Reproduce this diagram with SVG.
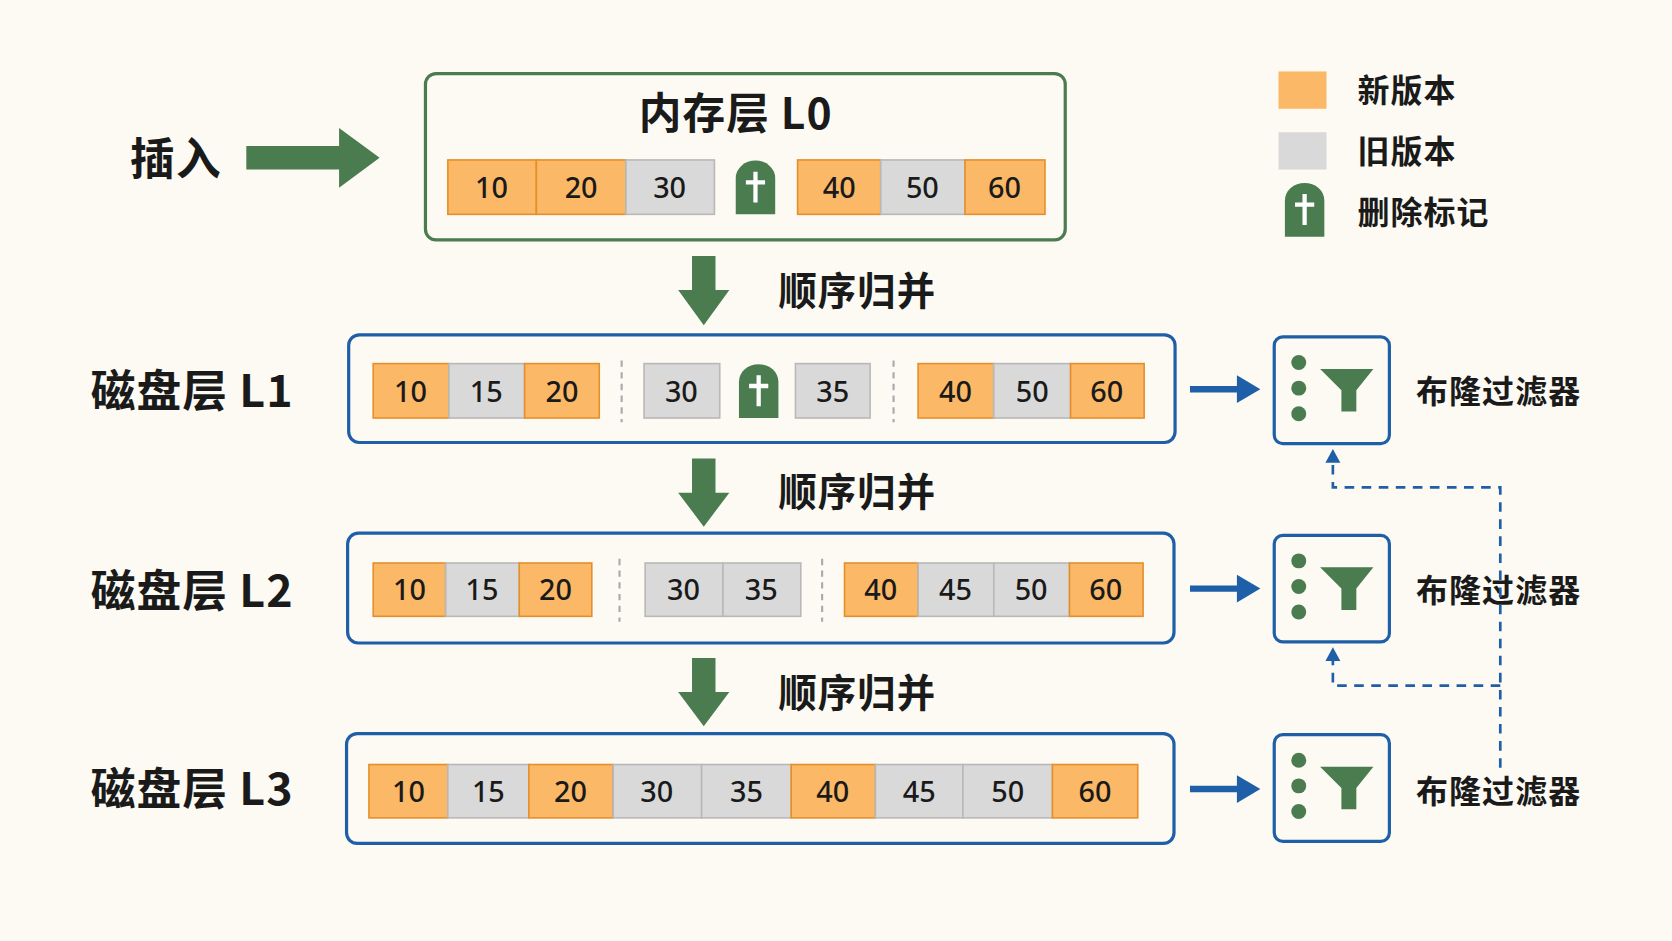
<svg xmlns="http://www.w3.org/2000/svg" width="1672" height="941" viewBox="0 0 1672 941">
<style>
text{font-family:"Noto Sans CJK SC","Noto Sans",sans-serif;font-weight:bold;fill:#1a1a1a}
.o{fill:#fbb867;stroke:#e58f2a;stroke-width:1.5}
.g{fill:#d9d9d9;stroke:#b8b8b8;stroke-width:1.5}
.n{font-family:"Noto Sans","Open Sans",sans-serif;font-weight:500;font-size:27px;text-anchor:middle}
.lb{font-size:42px;letter-spacing:1px}
.mg{font-size:36px;letter-spacing:1px}
.bf{font-size:30px;letter-spacing:1px}
.gb{fill:none;stroke:#4a7c50;stroke-width:3}
.bb{fill:none;stroke:#1f5fa8;stroke-width:3}
.sep{stroke:#aaa;stroke-width:2;stroke-dasharray:6 5}
.dash{fill:none;stroke:#1f5fa8;stroke-width:2.5;stroke-dasharray:9 7}
</style>
<defs>
<g id="tomb"><path d="M0 50 V16 A18 16 0 0 1 37 16 V50 Z" fill="#4a7c50"/><path d="M16.5 10 h4 v8 h7 v4 h-7 v17 h-4 v-17 h-7 v-4 h7 z" fill="#fff"/></g>
<g id="filt"><rect x="0" y="0" width="108" height="100" rx="8" class="bb"/><circle cx="23" cy="24" r="7" fill="#4a7c50"/><circle cx="23" cy="48" r="7" fill="#4a7c50"/><circle cx="23" cy="72" r="7" fill="#4a7c50"/><path d="M43 30 H93 L77 50 V70 H63 V50 Z" fill="#4a7c50"/></g>
</defs>
<rect width="1672" height="941" fill="#fcfaf3"/>
<g transform="scale(1.0663)">
<g id="legend">
<rect x="1199" y="67" width="45" height="35" fill="#fbb867"/><text x="1273" y="96" class="bf">新版本</text>
<rect x="1199" y="124" width="45" height="35" fill="#d9d9d9"/><text x="1273" y="153" class="bf">旧版本</text>
<use href="#tomb" x="1205" y="172"/><text x="1273" y="210" class="bf">删除标记</text>
</g>
<g id="insert"><text x="122" y="164" class="lb">插入</text></g>
<g id="L0">
<rect x="399" y="69" width="600" height="156" rx="10" class="gb"/>
<text x="690" y="121" class="lb" text-anchor="middle" style="font-size:40px">内存层 L0</text>
<rect x="420" y="150" width="83" height="51" class="o"/><rect x="503" y="150" width="84" height="51" class="o"/><rect x="587" y="150" width="83" height="51" class="g"/>
<use href="#tomb" x="690" y="151"/>
<rect x="748" y="150" width="78" height="51" class="o"/><rect x="826" y="150" width="79" height="51" class="g"/><rect x="905" y="150" width="75" height="51" class="o"/>
<text class="n" x="461" y="186">10</text><text class="n" x="545" y="186">20</text><text class="n" x="628" y="186">30</text><text class="n" x="787" y="186">40</text><text class="n" x="865" y="186">50</text><text class="n" x="942" y="186">60</text>
</g>
<g id="L1">
<text x="85" y="382" class="lb">磁盘层 L1</text>
<rect x="327" y="314" width="775" height="101" rx="10" class="bb"/>
<rect x="350" y="341" width="71" height="51" class="o"/><rect x="421" y="341" width="71" height="51" class="g"/><rect x="492" y="341" width="70" height="51" class="o"/>
<line x1="583" y1="338" x2="583" y2="396" class="sep"/>
<rect x="604" y="341" width="71" height="51" class="g"/><use href="#tomb" x="693" y="342"/><rect x="746" y="341" width="70" height="51" class="g"/>
<line x1="838" y1="338" x2="838" y2="396" class="sep"/>
<rect x="861" y="341" width="71" height="51" class="o"/><rect x="932" y="341" width="72" height="51" class="g"/><rect x="1004" y="341" width="69" height="51" class="o"/>
<text class="n" x="385" y="377">10</text><text class="n" x="456" y="377">15</text><text class="n" x="527" y="377">20</text><text class="n" x="639" y="377">30</text><text class="n" x="781" y="377">35</text><text class="n" x="896" y="377">40</text><text class="n" x="968" y="377">50</text><text class="n" x="1038" y="377">60</text>
</g>
<g id="L2">
<text x="85" y="569" class="lb">磁盘层 L2</text>
<rect x="326" y="500" width="775" height="103" rx="10" class="bb"/>
<rect x="350" y="528" width="68" height="50" class="o"/><rect x="418" y="528" width="69" height="50" class="g"/><rect x="487" y="528" width="68" height="50" class="o"/>
<line x1="581" y1="524" x2="581" y2="583" class="sep"/>
<rect x="605" y="528" width="73" height="50" class="g"/><rect x="678" y="528" width="73" height="50" class="g"/>
<line x1="771" y1="524" x2="771" y2="583" class="sep"/>
<rect x="792" y="528" width="69" height="50" class="o"/><rect x="861" y="528" width="71" height="50" class="g"/><rect x="932" y="528" width="71" height="50" class="g"/><rect x="1003" y="528" width="69" height="50" class="o"/>
<text class="n" x="384" y="563">10</text><text class="n" x="452" y="563">15</text><text class="n" x="521" y="563">20</text><text class="n" x="641" y="563">30</text><text class="n" x="714" y="563">35</text><text class="n" x="826" y="563">40</text><text class="n" x="896" y="563">45</text><text class="n" x="967" y="563">50</text><text class="n" x="1037" y="563">60</text>
</g>
<g id="L3">
<text x="85" y="755" class="lb">磁盘层 L3</text>
<rect x="325" y="688" width="776" height="103" rx="10" class="bb"/>
<rect x="346" y="717" width="74" height="50" class="o"/><rect x="420" y="717" width="76" height="50" class="g"/><rect x="496" y="717" width="79" height="50" class="o"/><rect x="575" y="717" width="83" height="50" class="g"/><rect x="658" y="717" width="84" height="50" class="g"/><rect x="742" y="717" width="79" height="50" class="o"/><rect x="821" y="717" width="82" height="50" class="g"/><rect x="903" y="717" width="84" height="50" class="g"/><rect x="987" y="717" width="80" height="50" class="o"/>
<text class="n" x="383" y="752">10</text><text class="n" x="458" y="752">15</text><text class="n" x="535" y="752">20</text><text class="n" x="616" y="752">30</text><text class="n" x="700" y="752">35</text><text class="n" x="781" y="752">40</text><text class="n" x="862" y="752">45</text><text class="n" x="945" y="752">50</text><text class="n" x="1027" y="752">60</text>
</g>
<g id="F1"><use href="#filt" x="1195" y="316"/><text x="1328" y="378" class="bf">布隆过滤器</text></g>
<g id="F2"><use href="#filt" x="1195" y="502"/><text x="1328" y="565" class="bf">布隆过滤器</text></g>
<g id="F3"><use href="#filt" x="1195" y="689"/><text x="1328" y="753" class="bf">布隆过滤器</text></g>
<g id="merge-labels">
<text x="730" y="286" class="mg">顺序归并</text><text x="730" y="475" class="mg">顺序归并</text><text x="730" y="663" class="mg">顺序归并</text>
</g>
<g id="connectors">
<path d="M231 137 H318 V120 L356 148 L318 176 V159 H231 Z" fill="#4a7c50"/>
<path d="M649 240 H671 V272 H684 L660 305 L636 272 H649 Z" fill="#4a7c50"/>
<path d="M649 430 H671 V462 H684 L660 494 L636 462 H649 Z" fill="#4a7c50"/>
<path d="M649 617 H671 V649 H684 L660 681 L636 649 H649 Z" fill="#4a7c50"/>
<g fill="#1f5fa8">
<path d="M1116 362 H1160 V352 L1182 365 L1160 378 V368 H1116 Z"/>
<path d="M1116 549 H1160 V539 L1182 552 L1160 565 V555 H1116 Z"/>
<path d="M1116 737 H1160 V727 L1182 740 L1160 753 V743 H1116 Z"/>
</g>
<path d="M1407 720 V457 H1250 V432" class="dash"/>
<path d="M1407 643 H1250 V618" class="dash"/>
<path d="M1243 434 L1250 421 L1257 434 Z" fill="#1f5fa8"/>
<path d="M1243 620 L1250 607 L1257 620 Z" fill="#1f5fa8"/>
</g>
</g>
</svg>
